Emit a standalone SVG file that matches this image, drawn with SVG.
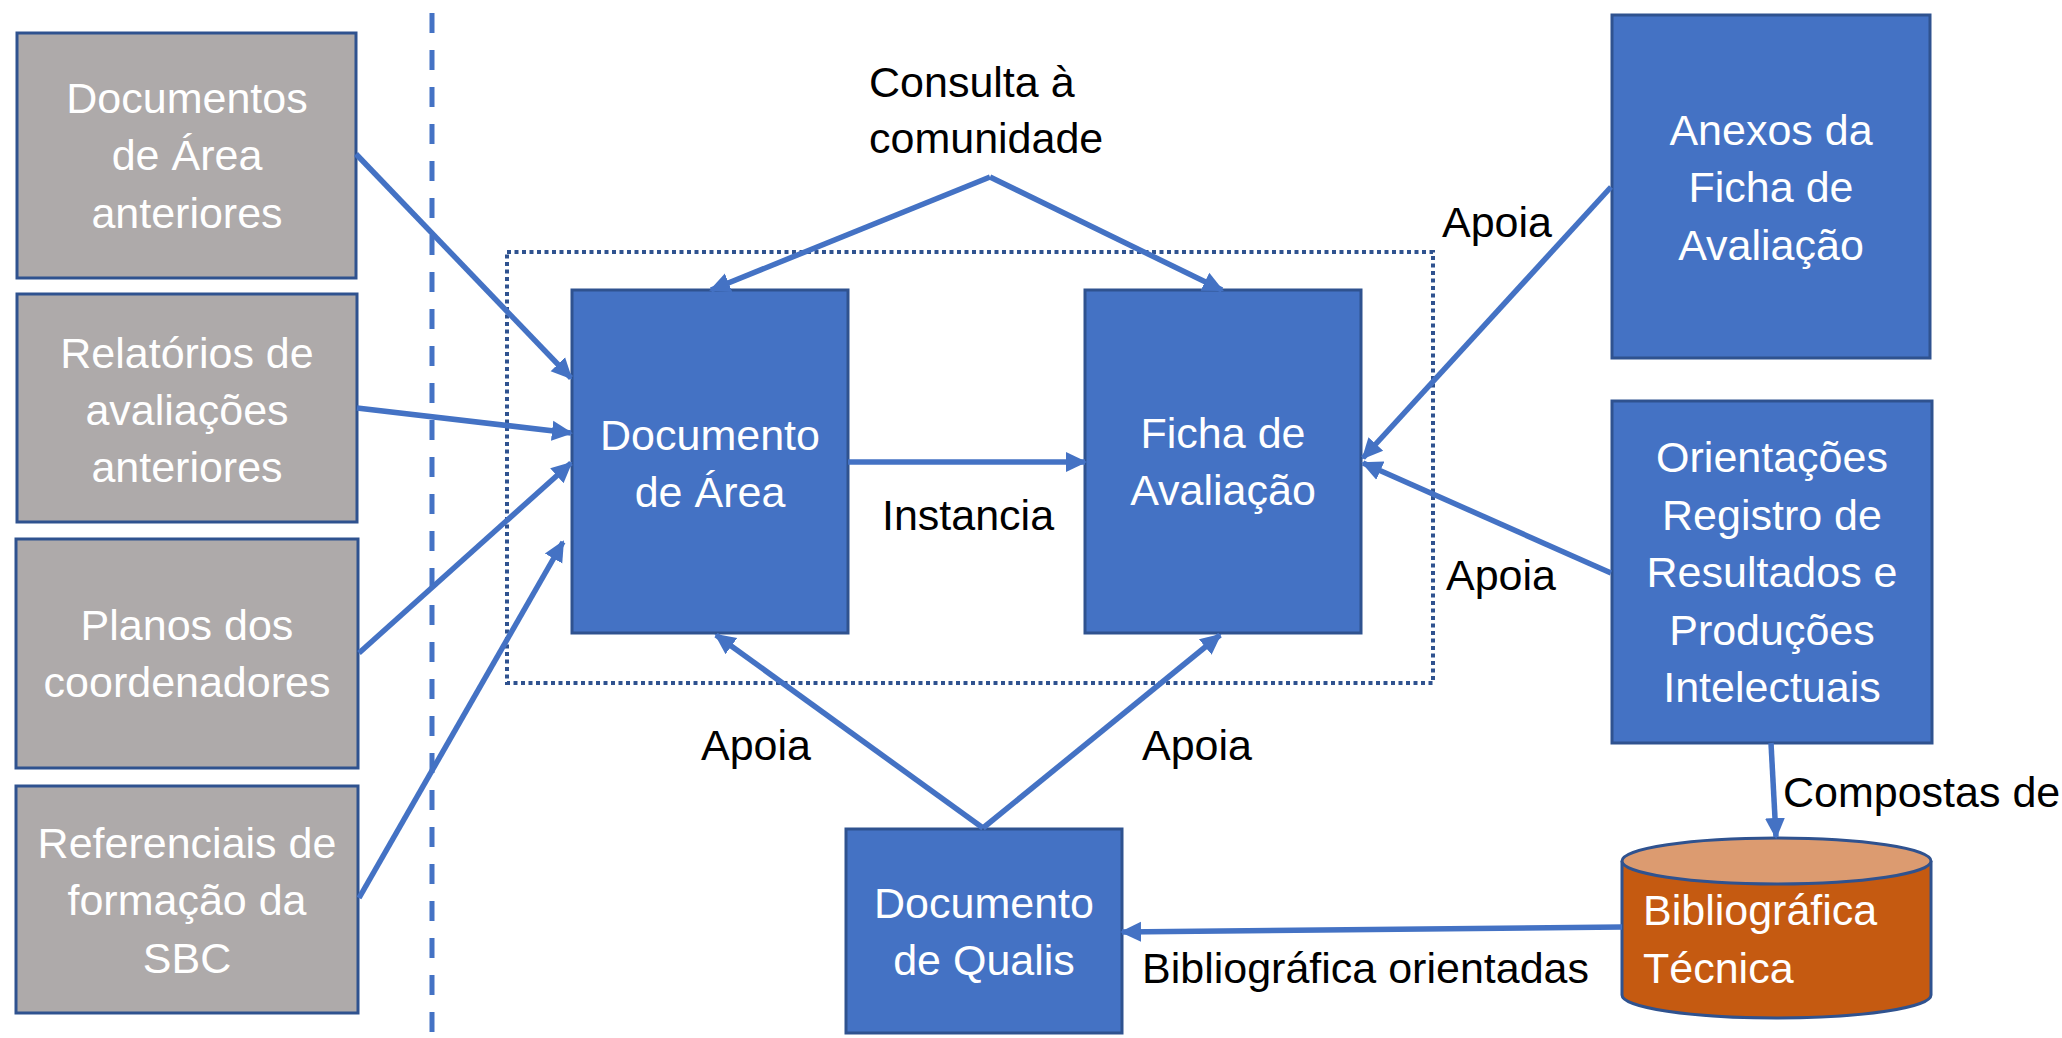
<svg xmlns="http://www.w3.org/2000/svg" width="2062" height="1038" viewBox="0 0 2062 1038">
<defs>
<style>
.blue{fill:#4472C4;stroke:#2F528F;stroke-width:3}
.gray{fill:#AEAAAA;stroke:#2F528F;stroke-width:3}
.nt{font-family:"Liberation Sans",Arial,sans-serif;font-size:43px;fill:#FFFFFF;text-anchor:middle}
.lb{font-family:"Liberation Sans",Arial,sans-serif;font-size:43px;fill:#000000}
.conn{stroke:#4472C4;stroke-width:5.5;fill:none;marker-end:url(#ah)}
</style>
<marker id="ah" markerUnits="userSpaceOnUse" markerWidth="22" markerHeight="22" refX="19" refY="11" orient="auto">
<path d="M0,1 L21,11 L0,21 z" fill="#4472C4"/>
</marker>
</defs>
<rect width="2062" height="1038" fill="#FFFFFF"/>
<line x1="432" y1="13" x2="432" y2="1038" stroke="#4472C4" stroke-width="5" stroke-dasharray="20 17"/>
<rect x="507" y="252" width="926" height="431" fill="none" stroke="#2F528F" stroke-width="4" stroke-dasharray="4 3.5"/>

<g id="n-docs-anteriores"><rect class="gray" x="17" y="33" width="339" height="245"/>
<text class="nt" x="187" y="113">Documentos</text><text class="nt" x="187" y="170">de Área</text><text class="nt" x="187" y="228">anteriores</text></g>
<g id="n-relatorios"><rect class="gray" x="17" y="294" width="340" height="228"/>
<text class="nt" x="187" y="368">Relatórios de</text><text class="nt" x="187" y="425">avaliações</text><text class="nt" x="187" y="482">anteriores</text></g>
<g id="n-planos"><rect class="gray" x="16" y="539" width="342" height="229"/>
<text class="nt" x="187" y="640">Planos dos</text><text class="nt" x="187" y="697">coordenadores</text></g>
<g id="n-referenciais"><rect class="gray" x="16" y="786" width="342" height="227"/>
<text class="nt" x="187" y="858">Referenciais de</text><text class="nt" x="187" y="915">formação da</text><text class="nt" x="187" y="973">SBC</text></g>

<g id="n-doc-area"><rect class="blue" x="572" y="290" width="276" height="343"/>
<text class="nt" x="710" y="450">Documento</text><text class="nt" x="710" y="507">de Área</text></g>
<g id="n-ficha"><rect class="blue" x="1085" y="290" width="276" height="343"/>
<text class="nt" x="1223" y="448">Ficha de</text><text class="nt" x="1223" y="505">Avaliação</text></g>
<g id="n-qualis"><rect class="blue" x="846" y="829" width="276" height="204"/>
<text class="nt" x="984" y="918">Documento</text><text class="nt" x="984" y="975">de Qualis</text></g>
<g id="n-anexos"><rect class="blue" x="1612" y="15" width="318" height="343"/>
<text class="nt" x="1771" y="145">Anexos da</text><text class="nt" x="1771" y="202">Ficha de</text><text class="nt" x="1771" y="260">Avaliação</text></g>
<g id="n-orientacoes"><rect class="blue" x="1612" y="401" width="320" height="342"/>
<text class="nt" x="1772" y="472">Orientações</text><text class="nt" x="1772" y="530">Registro de</text><text class="nt" x="1772" y="587">Resultados e</text><text class="nt" x="1772" y="645">Produções</text><text class="nt" x="1772" y="702">Intelectuais</text></g>
<g id="n-bibliografica">
<path d="M1622,861 L1622,995 A154.5,23 0 0 0 1931,995 L1931,861" fill="#C55A11" stroke="#2F528F" stroke-width="3"/>
<ellipse cx="1776.5" cy="861" rx="154.5" ry="23" fill="#DC9B70" stroke="#2F528F" stroke-width="3"/>
<text class="nt" style="text-anchor:start" x="1643" y="925">Bibliográfica</text><text class="nt" style="text-anchor:start" x="1643" y="983">Técnica</text></g>

<g id="connectors">
<line class="conn" x1="356" y1="154" x2="571" y2="378"/>
<line class="conn" x1="357" y1="408" x2="571" y2="433"/>
<line class="conn" x1="359" y1="653" x2="571" y2="463"/>
<line class="conn" x1="359" y1="898" x2="563" y2="542"/>
<line class="conn" x1="990" y1="177" x2="711" y2="290"/>
<line class="conn" x1="990" y1="177" x2="1222" y2="290"/>
<line class="conn" x1="848" y1="462" x2="1085" y2="462"/>
<line class="conn" x1="983" y1="828" x2="716" y2="635"/>
<line class="conn" x1="983" y1="828" x2="1220" y2="635"/>
<line class="conn" x1="1611" y1="187" x2="1363" y2="458"/>
<line class="conn" x1="1611" y1="573" x2="1363" y2="463"/>
<line class="conn" x1="1771" y1="743" x2="1776" y2="837"/>
<line class="conn" x1="1622" y1="927" x2="1122" y2="932"/>
</g>

<g id="labels">
<text class="lb" x="869" y="97">Consulta à</text>
<text class="lb" x="869" y="153">comunidade</text>
<text class="lb" x="968" y="530" text-anchor="middle">Instancia</text>
<text class="lb" x="701" y="760">Apoia</text>
<text class="lb" x="1142" y="760">Apoia</text>
<text class="lb" x="1442" y="237">Apoia</text>
<text class="lb" x="1446" y="590">Apoia</text>
<text class="lb" x="1783" y="807">Compostas de</text>
<text class="lb" x="1142" y="983">Bibliográfica orientadas</text>
</g>
</svg>
